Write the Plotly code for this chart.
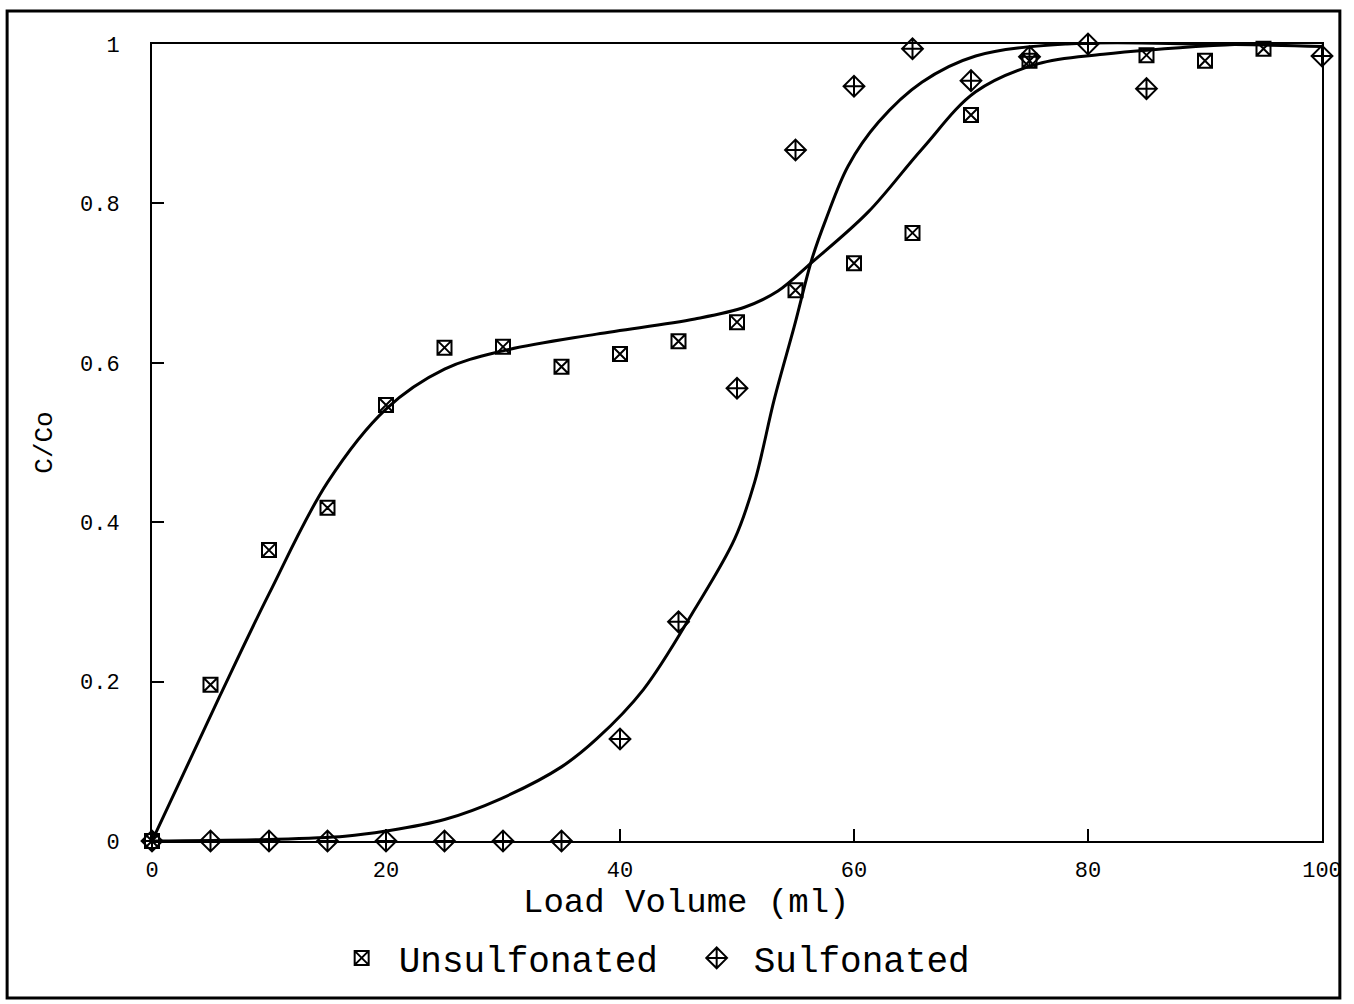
import plotly.graph_objects as go

# Measured points
vol_unsulf = [0, 5, 10, 15, 20, 25, 30, 35, 40, 45, 50, 55, 60, 65, 70, 75, 80, 85, 90, 95, 100]
cc_unsulf = [0.0, 0.196, 0.365, 0.418, 0.547, 0.619, 0.620, 0.595, 0.611, 0.627, 0.651,
             0.691, 0.725, 0.763, 0.911, 0.979, 1.004, 0.986, 0.979, 0.994, 1.005]

vol_sulf = [0, 5, 10, 15, 20, 25, 30, 35, 40, 45, 50, 55, 60, 65, 70, 75, 80, 85, 90, 95, 100]
cc_sulf = [0.0, 0.0, 0.0, 0.0, 0.0, 0.0, 0.0, 0.0, 0.128, 0.275, 0.568,
           0.867, 0.947, 0.994, 0.954, 0.984, 1.0, 0.944, 1.005, 1.004, 0.985]

# Fitted curves
fit_unsulf_x = [0, 5.8, 10, 15, 20, 25, 30, 38, 46.4, 50.7, 53.5, 56.4, 61.2, 65.8, 70.4, 75.7, 81.3, 90.7, 100]
fit_unsulf_y = [0.0, 0.182, 0.31, 0.45, 0.542, 0.592, 0.615, 0.636, 0.655, 0.670, 0.690, 0.726, 0.789,
                0.868, 0.94, 0.975, 0.987, 0.998, 1.004]

fit_sulf_x = [0, 10, 16.5, 20, 25, 29.8, 35, 38, 42, 46.4, 49.8, 51.5, 53.2, 54.9, 56.4, 57.6,
              59.5, 62.1, 65.8, 70.4, 78.2, 90, 100]
fit_sulf_y = [0.0, 0.002, 0.006, 0.0125, 0.027, 0.053, 0.093, 0.128, 0.19, 0.291, 0.379, 0.45, 0.555,
              0.646, 0.73, 0.78, 0.847, 0.902, 0.952, 0.985, 1.0, 1.0, 0.997]

x_ticks = [0, 20, 40, 60, 80, 100]
y_ticks = [0, 0.2, 0.4, 0.6, 0.8, 1]
y_tick_text = ["0", "0.2", "0.4", "0.6", "0.8", "1"]

FONT = "Liberation Mono"

fig = go.Figure()
fig.add_trace(go.Scatter(x=fit_unsulf_x, y=fit_unsulf_y, mode="lines", line=dict(color="black", width=3, shape="spline", smoothing=1.0),
                         showlegend=False, hoverinfo="skip", cliponaxis=False))
fig.add_trace(go.Scatter(x=fit_sulf_x, y=fit_sulf_y, mode="lines", line=dict(color="black", width=3, shape="spline", smoothing=1.0),
                         showlegend=False, hoverinfo="skip", cliponaxis=False))
fig.add_trace(go.Scatter(x=vol_unsulf, y=cc_unsulf, mode="markers", name="Unsulfonated",
                         marker=dict(symbol="square-x-open", size=14, color="black", line=dict(width=2, color="black")),
                         cliponaxis=False))
fig.add_trace(go.Scatter(x=vol_sulf, y=cc_sulf, mode="markers", name="Sulfonated",
                         marker=dict(symbol="diamond-cross-open", size=16, color="black", line=dict(width=2, color="black")),
                         cliponaxis=False))

L, R, T, B = 152, 1331, 44, 841
W, H = 1354, 1004
pw, ph = R - L, B - T

def px2paper_x(px):
    return (px - L) / pw

def px2paper_y(py):
    return (B - py) / ph

fig.add_shape(type="rect", xref="paper", yref="paper",
              x0=px2paper_x(6), x1=px2paper_x(1349), y0=px2paper_y(998), y1=px2paper_y(11),
              line=dict(color="black", width=3))

fig.add_annotation(text="Load Volume (ml)", xref="paper", yref="paper",
                   x=px2paper_x(690), y=px2paper_y(903), xanchor="center", yanchor="middle",
                   showarrow=False, font=dict(family=FONT, size=34, color="black"))

fig.update_layout(
    width=W, height=H,
    margin=dict(l=L, r=W - R, t=T, b=H - B, pad=0),
    paper_bgcolor="white", plot_bgcolor="white",
    font=dict(family=FONT, color="black", size=22),
    showlegend=True,
    legend=dict(orientation="h", x=px2paper_x(326), y=px2paper_y(958), xanchor="left", yanchor="middle",
                font=dict(family=FONT, size=36, color="black"), bgcolor="rgba(0,0,0,0)",
                itemwidth=64, entrywidth=276, entrywidthmode="pixels"),
    xaxis=dict(range=[0, 100], tickvals=x_ticks, ticktext=[str(v) for v in x_ticks],
               ticks="inside", ticklen=12, tickwidth=2, tickcolor="black",
               showline=True, linecolor="black", linewidth=2, mirror=True,
               showgrid=False, zeroline=False, ticklabelstandoff=8,
               tickfont=dict(family=FONT, size=22)),
    yaxis=dict(range=[0, 1], tickvals=y_ticks, ticktext=y_tick_text,
               ticks="inside", ticklen=12, tickwidth=2, tickcolor="black",
               showline=True, linecolor="black", linewidth=2, mirror=True,
               showgrid=False, zeroline=False, ticklabelstandoff=26,
               tickfont=dict(family=FONT, size=22),
               title=dict(text="C/Co", font=dict(family=FONT, size=26), standoff=20)),
)

fig.write_html("out.html")
